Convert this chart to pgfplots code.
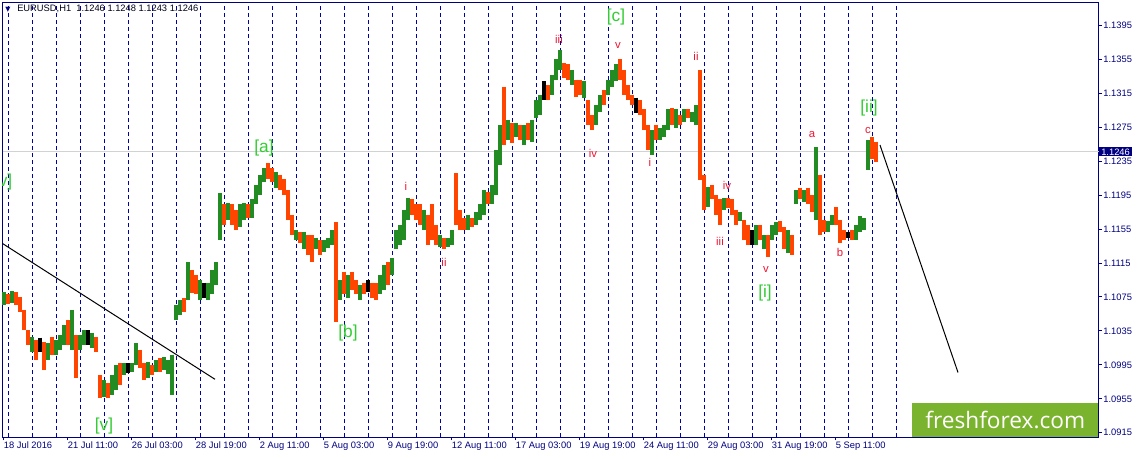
\documentclass[border=0pt]{standalone}
\usepackage{pgfplots}
\pgfplotsset{compat=1.18}
\usepackage{pgfplotstable}
\usepackage{fontspec}
\setmainfont{Liberation Sans}
\newfontfamily\wmfont{Open Sans}
\newfontfamily\symfont{DejaVu Sans}
\definecolor{navy}{RGB}{0,0,128}
\definecolor{gridblue}{RGB}{0,0,170}
\definecolor{upg}{RGB}{34,139,34}
\definecolor{dnr}{RGB}{255,69,0}
\definecolor{wlab}{RGB}{50,205,50}
\definecolor{rlab}{RGB}{240,20,50}
\definecolor{ffgreen}{RGB}{122,179,46}
\definecolor{curline}{RGB}{210,210,210}

% x = bar position (chart pixels), hi/lo = price, c: 0 up, 1 down, 2 doji
\pgfplotstableread{
x hi lo c
4 1.1081 1.1065 0
8 1.1079 1.1067 1
12 1.1082 1.1068 0
16 1.1081 1.1066 1
20 1.1075 1.1057 1
24 1.1060 1.1036 1
28 1.1036 1.1019 1
32 1.1028 1.1010 0
36 1.1024 1.1001 1
40 1.1027 1.1010 2
44 1.1022 1.0989 1
48 1.1021 1.1001 0
52 1.1028 1.1007 1
56 1.1024 1.1007 0
60 1.1030 1.1013 0
64 1.1042 1.1019 0
68 1.1048 1.1019 1
72 1.1060 1.1013 0
76 1.1030 1.0980 1
80 1.1030 1.1013 0
84 1.1036 1.1019 0
88 1.1036 1.1019 2
92 1.1033 1.1015 0
96 1.1028 1.1010 1
100 1.0983 1.0956 1
104 1.0977 1.0957 0
108 1.0974 1.0956 1
112 1.0983 1.0960 0
116 1.0995 1.0965 0
120 1.0997 1.0971 1
124 1.0997 1.0983 0
128 1.0997 1.0986 2
132 1.0997 1.0987 0
136 1.1021 1.0995 0
140 1.1013 1.0991 1
144 1.0997 1.0977 1
148 1.0998 1.0980 0
152 1.0995 1.0983 1
156 1.1001 1.0987 0
160 1.1003 1.0987 1
164 1.1004 1.0989 0
168 1.1001 1.0984 0
172 1.1007 1.0960 0
176 1.1066 1.1048 0
180 1.1072 1.1054 0
184 1.1074 1.1057 1
188 1.1116 1.1072 0
192 1.1107 1.1080 1
196 1.1101 1.1078 1
200 1.1095 1.1072 0
204 1.1092 1.1074 2
208 1.1092 1.1072 0
212 1.1107 1.1078 0
216 1.1116 1.1089 0
220 1.1198 1.1142 0
224 1.1184 1.1160 1
228 1.1186 1.1166 0
232 1.1184 1.1160 1
236 1.1178 1.1154 1
240 1.1184 1.1157 0
244 1.1186 1.1166 0
248 1.1184 1.1168 1
252 1.1190 1.1168 0
256 1.1207 1.1184 0
260 1.1219 1.1195 0
264 1.1227 1.1211 0
268 1.1233 1.1214 1
272 1.1227 1.1211 1
276 1.1222 1.1204 0
280 1.1219 1.1201 1
284 1.1214 1.1195 1
288 1.1201 1.1166 1
292 1.1172 1.1148 1
296 1.1154 1.1142 0
300 1.1152 1.1139 1
304 1.1152 1.1131 0
308 1.1148 1.1125 1
312 1.1148 1.1116 1
316 1.1145 1.1131 0
320 1.1142 1.1125 1
324 1.1142 1.1128 0
328 1.1145 1.1133 0
332 1.1154 1.1136 0
336 1.1163 1.1046 1
340 1.1095 1.1072 0
344 1.1105 1.1078 1
348 1.1101 1.1074 0
352 1.1105 1.1083 1
356 1.1095 1.1078 1
360 1.1089 1.1072 0
364 1.1092 1.1078 1
368 1.1095 1.1081 2
372 1.1092 1.1074 1
376 1.1092 1.1072 1
380 1.1101 1.1078 0
384 1.1113 1.1083 0
388 1.1116 1.1089 1
392 1.1121 1.1101 0
396 1.1154 1.1131 0
400 1.1160 1.1136 0
404 1.1178 1.1142 0
408 1.1192 1.1166 0
412 1.1190 1.1172 1
416 1.1184 1.1166 1
420 1.1184 1.1160 1
424 1.1178 1.1154 0
428 1.1172 1.1136 1
432 1.1184 1.1142 1
436 1.1160 1.1136 1
440 1.1148 1.1134 0
444 1.1145 1.1131 1
448 1.1145 1.1134 0
452 1.1154 1.1136 0
456 1.1221 1.1160 1
460 1.1178 1.1154 1
464 1.1168 1.1154 1
468 1.1172 1.1154 0
472 1.1168 1.1157 1
476 1.1175 1.1160 0
480 1.1184 1.1166 0
484 1.1201 1.1172 0
488 1.1199 1.1184 1
492 1.1207 1.1184 0
496 1.1248 1.1195 0
500 1.1278 1.1231 0
504 1.1323 1.1254 1
508 1.1284 1.1260 0
512 1.1280 1.1257 1
516 1.1280 1.1263 0
520 1.1278 1.1260 1
524 1.1278 1.1254 0
528 1.1280 1.1260 1
532 1.1284 1.1258 0
536 1.1307 1.1286 0
540 1.1313 1.1290 0
544 1.1329 1.1307 2
548 1.1325 1.1307 1
552 1.1337 1.1313 0
556 1.1355 1.1331 0
560 1.1366 1.1343 0
564 1.1351 1.1333 1
568 1.1349 1.1331 1
572 1.1343 1.1325 0
576 1.1331 1.1311 1
580 1.1331 1.1313 1
584 1.1329 1.1310 0
588 1.1307 1.1278 1
592 1.1290 1.1272 1
596 1.1301 1.1278 0
600 1.1313 1.1293 0
604 1.1319 1.1301 1
608 1.1331 1.1313 0
612 1.1343 1.1323 0
616 1.1349 1.1329 0
620 1.1355 1.1331 1
624 1.1343 1.1313 1
628 1.1325 1.1307 1
632 1.1313 1.1301 1
636 1.1310 1.1292 2
640 1.1307 1.1290 1
644 1.1296 1.1272 1
648 1.1278 1.1248 1
652 1.1272 1.1242 0
656 1.1278 1.1260 1
660 1.1274 1.1260 0
664 1.1278 1.1263 0
668 1.1296 1.1272 0
672 1.1298 1.1278 1
676 1.1296 1.1274 0
680 1.1290 1.1278 1
684 1.1296 1.1281 0
688 1.1296 1.1286 1
692 1.1293 1.1281 0
696 1.1301 1.1278 0
700 1.1342 1.1213 1
704 1.1219 1.1178 1
708 1.1205 1.1181 0
712 1.1207 1.1190 1
716 1.1195 1.1172 1
720 1.1190 1.1160 1
724 1.1192 1.1178 0
728 1.1192 1.1180 1
732 1.1190 1.1172 1
736 1.1178 1.1160 1
740 1.1175 1.1164 0
744 1.1166 1.1142 1
748 1.1160 1.1136 1
752 1.1154 1.1136 2
756 1.1160 1.1136 0
760 1.1160 1.1142 1
764 1.1148 1.1131 0
768 1.1148 1.1122 1
772 1.1160 1.1142 0
776 1.1163 1.1148 0
780 1.1164 1.1151 1
784 1.1157 1.1131 1
788 1.1154 1.1127 0
792 1.1148 1.1125 1
796 1.1201 1.1184 0
800 1.1204 1.1190 1
804 1.1201 1.1187 0
808 1.1204 1.1184 1
812 1.1195 1.1175 1
816 1.1252 1.1166 0
820 1.1219 1.1148 1
824 1.1166 1.1151 1
828 1.1164 1.1152 0
832 1.1172 1.1160 0
836 1.1181 1.1160 1
840 1.1166 1.1139 1
844 1.1154 1.1142 1
848 1.1152 1.1145 2
852 1.1154 1.1142 1
856 1.1160 1.1142 0
860 1.1170 1.1152 0
864 1.1168 1.1154 0
868 1.1260 1.1225 0
872 1.1263 1.1237 1
876 1.1258 1.1234 1
}\bars

\begin{document}
\begin{tikzpicture}
\useasboundingbox (0,0) rectangle (853.5pt,343.5pt);
\begin{axis}[
  name=ax,
  at={(1.875pt,15.75pt)}, anchor=south west,
  scale only axis, width=822pt, height=325.875pt,
  xmin=2.5, xmax=1098.5, ymin=1.0910, ymax=1.1422,
  clip=false,
  axis line style={navy, line width=0.75pt},
  tick style={navy, line width=0.75pt},
  tick align=outside, major tick length=2.5pt,
  xtick pos=left, ytick pos=right, yticklabel pos=right,
  ytick={1.0915,1.0955,1.0995,1.1035,1.1075,1.1115,1.1155,1.1195,1.1235,1.1275,1.1315,1.1355,1.1395},
  yticklabels={1.0915,1.0955,1.0995,1.1035,1.1075,1.1115,1.1155,1.1195,1.1235,1.1275,1.1315,1.1355,1.1395},
  yticklabel style={font=\fontsize{7}{8}\selectfont, text=navy, anchor=west, inner sep=0pt, xshift=1pt},
  xtick={3,67,131,195,259,323,387,451,515,579,643,707,771,835},
  xticklabels={18 Jul 2016, 21 Jul 11:00, 26 Jul 03:00, 28 Jul 19:00, 2 Aug 11:00, 5 Aug 03:00, 9 Aug 19:00, 12 Aug 11:00, 17 Aug 03:00, 19 Aug 19:00, 24 Aug 11:00, 29 Aug 03:00, 31 Aug 19:00, 5 Sep 11:00},
  xticklabel style={font=\fontsize{7}{8}\selectfont, text=navy, anchor=north west, inner sep=0pt, xshift=0.5pt, yshift=-1pt},
  extra x ticks={8,32,...,896},
  extra x tick labels={},
  extra x tick style={grid=major, major tick length=0pt, grid style={gridblue, line width=0.75pt, dash pattern=on 3pt off 2.25pt}},
]
% current price line
\addplot[curline, line width=0.75pt, forget plot] coordinates {(2.5,1.1246) (1098.5,1.1246)};

% bars
\addplot[draw=none, mark=none, forget plot, restrict expr to domain={\thisrow{c}}{0:0},
  error bars/.cd, y dir=minus, y explicit, error mark=none,
  error bar style={draw=upg, line width=2.5pt}]
  table[x=x, y=hi, y error minus expr=\thisrow{hi}-\thisrow{lo}] {\bars};
\addplot[draw=none, mark=none, forget plot, restrict expr to domain={\thisrow{c}}{1:1},
  error bars/.cd, y dir=minus, y explicit, error mark=none,
  error bar style={draw=dnr, line width=2.5pt}]
  table[x=x, y=hi, y error minus expr=\thisrow{hi}-\thisrow{lo}] {\bars};
\addplot[draw=none, mark=none, forget plot, restrict expr to domain={\thisrow{c}}{2:2},
  error bars/.cd, y dir=minus, y explicit, error mark=none,
  error bar style={draw=black, line width=2.5pt}]
  table[x=x, y=hi, y error minus expr=\thisrow{hi}-\thisrow{lo}] {\bars};

% trend lines
\addplot[black, line width=0.75pt, forget plot] coordinates {(2.5,1.1138) (215,1.0978)};
\addplot[black, line width=0.75pt, forget plot] coordinates {(880,1.1254) (958,1.0986)};

% wave labels (green)
\begin{scope}
\clip (axis cs:2.5,1.0910) rectangle (axis cs:1098.5,1.1422);
\node[text=wlab, font=\fontsize{13}{13}\selectfont, anchor=east, inner sep=0pt] at (axis cs:12.5,1.1210) {[v]};
\end{scope}
\node[text=wlab, font=\fontsize{13}{13}\selectfont] at (axis cs:104,1.0923) {[v]};
\node[text=wlab, font=\fontsize{13}{13}\selectfont] at (axis cs:264,1.1251) {[a]};
\node[text=wlab, font=\fontsize{13}{13}\selectfont] at (axis cs:348,1.1032) {[b]};
\node[text=wlab, font=\fontsize{13}{13}\selectfont] at (axis cs:616,1.1405) {[c]};
\node[text=wlab, font=\fontsize{13}{13}\selectfont] at (axis cs:765,1.1080) {[i]};
\node[text=wlab, font=\fontsize{13}{13}\selectfont] at (axis cs:869,1.1298) {[ii]};

% wave labels (red)
\node[text=rlab, font=\fontsize{8.5}{8.5}\selectfont] at (axis cs:559,1.1378) {iii};
\node[text=rlab, font=\fontsize{8.5}{8.5}\selectfont] at (axis cs:618,1.1371) {v};
\node[text=rlab, font=\fontsize{8.5}{8.5}\selectfont] at (axis cs:696,1.1358) {ii};
\node[text=rlab, font=\fontsize{8.5}{8.5}\selectfont] at (axis cs:593,1.1244) {iv};
\node[text=rlab, font=\fontsize{8.5}{8.5}\selectfont] at (axis cs:650,1.1233) {i};
\node[text=rlab, font=\fontsize{8.5}{8.5}\selectfont] at (axis cs:406,1.1205) {i};
\node[text=rlab, font=\fontsize{8.5}{8.5}\selectfont] at (axis cs:444,1.1116) {ii};
\node[text=rlab, font=\fontsize{8.5}{8.5}\selectfont] at (axis cs:727,1.1207) {iv};
\node[text=rlab, font=\fontsize{8.5}{8.5}\selectfont] at (axis cs:720,1.1140) {iii};
\node[text=rlab, font=\fontsize{8.5}{8.5}\selectfont] at (axis cs:766,1.1107) {v};
\node[text=rlab, font=\fontsize{8.5}{8.5}\selectfont] at (axis cs:812,1.1266) {a};
\node[text=rlab, font=\fontsize{8.5}{8.5}\selectfont] at (axis cs:840,1.1127) {b};
\node[text=rlab, font=\fontsize{8.5}{8.5}\selectfont] at (axis cs:868,1.1271) {c};

% header
\node[anchor=west, inner sep=0pt, text=navy, font=\symfont\fontsize{5}{5}\selectfont] at (axis cs:5,1.1414) {▼};
\node[anchor=west, inner sep=0pt, text=black!80!navy, font=\fontsize{7}{8}\selectfont] at (axis cs:17,1.1414) {EURUSD,H1\ \ 1.1246 1.1248 1.1243 1.1246};

% current price tag
\node[anchor=west, fill=navy, text=white, inner xsep=1.5pt, inner ysep=1pt, font=\fontsize{7}{8}\selectfont] at (axis cs:1099,1.1246) {1.1246};
\end{axis}
\node[anchor=south east, fill=ffgreen, minimum width=139.5pt, minimum height=25.5pt, inner sep=0pt,
  text=white, font=\wmfont\fontsize{17}{17}\selectfont] at (ax.south east) {freshforex.com};
\end{tikzpicture}
\end{document}
